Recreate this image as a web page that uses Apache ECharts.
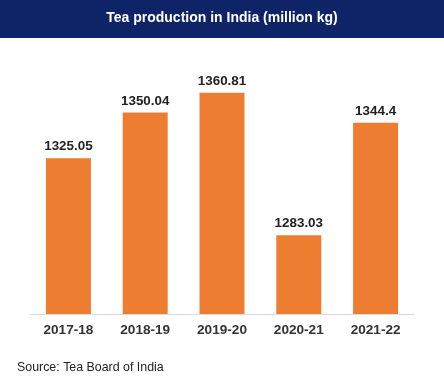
<!DOCTYPE html>
<html><head><meta charset="utf-8">
<script src="https://cdn.jsdelivr.net/npm/echarts@6/dist/echarts.min.js"></script>
<style>html,body{margin:0;padding:0;background:#fff}#c{width:444px;height:388px}</style>
</head><body><div id="c"></div>
<script>
const categories = ['2017-18','2018-19','2019-20','2020-21','2021-22'];
const production = [1325.05, 1350.04, 1360.81, 1283.03, 1344.4];
const labels = ['1325.05','1350.04','1360.81','1283.03','1344.4'];
const chart = echarts.init(document.getElementById('c'), null, {renderer:'canvas'});
chart.setOption({
  animation:false,
  backgroundColor:'#fff',
  graphic:[
    {type:'rect', left:0, top:0, shape:{width:444, height:38}, style:{fill:'#0F2467'}, z:0},
    {type:'text', left:'center', top:11, style:{text:'Tea production in India (million kg)', fill:'#fff', font:'bold 14px Arial, "Liberation Sans", sans-serif'}, z:1},
    {type:'text', left:17, top:362, style:{text:'Source: Tea Board of India', fill:'#222', font:'12.4px Arial, "Liberation Sans", sans-serif'}}
  ],
  grid:{left:30, right:30, top:21, bottom:74},
  xAxis:{type:'category', data:categories,
    axisLine:{lineStyle:{color:'#dcdcdc', width:1}}, axisTick:{show:false},
    axisLabel:{color:'#333', fontWeight:'bold', fontSize:13.6, fontFamily:'Arial, "Liberation Sans", sans-serif', margin:9}},
  yAxis:{type:'value', min:1240, max:1400, show:false, splitLine:{show:false}},
  series:[{type:'bar', data:production, barWidth:45,
    itemStyle:{color:'#ED7D31'},
    label:{show:true, position:'top', distance:5, color:'#222', fontWeight:'bold', fontSize:13.4,
      fontFamily:'Arial, "Liberation Sans", sans-serif',
      formatter:p=>labels[p.dataIndex]}}]
});
</script></body></html>
